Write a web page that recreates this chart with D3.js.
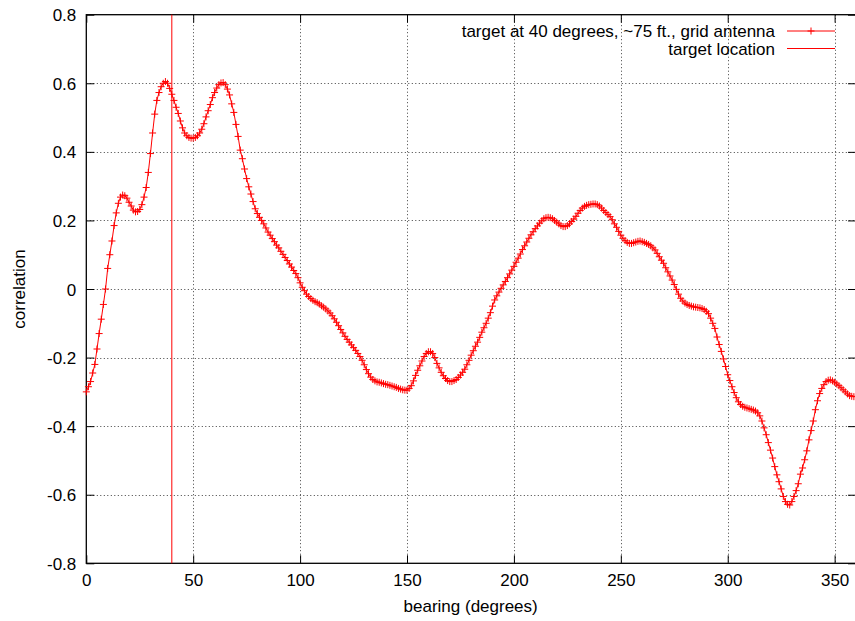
<!DOCTYPE html>
<html>
<head>
<meta charset="utf-8">
<script src="https://cdn.jsdelivr.net/npm/d3@7"></script>
<style>
	body { margin: 0; background: #fff; }
	svg text { font-family: "Liberation Sans", Arial, Helvetica, sans-serif; font-size: 17px; fill: #000; }
</style>
</head>
<body>
<div id="chart"></div>
<script>
// bearing in degrees, one sample per degree
var bearing = d3.range(0, 360);

var correlation = [
	-0.300, -0.285, -0.270, -0.245, -0.220, -0.175, -0.130, -0.088, -0.045, 0.000,
	0.060, 0.100, 0.140, 0.185, 0.222, 0.250, 0.268, 0.274, 0.272, 0.265,
	0.253, 0.242, 0.230, 0.225, 0.226, 0.232, 0.246, 0.268, 0.296, 0.340,
	0.395, 0.455, 0.510, 0.550, 0.573, 0.590, 0.600, 0.605, 0.600, 0.585,
	0.568, 0.550, 0.530, 0.512, 0.490, 0.470, 0.455, 0.447, 0.442, 0.440,
	0.440, 0.442, 0.447, 0.455, 0.466, 0.482, 0.502, 0.520, 0.538, 0.558,
	0.573, 0.586, 0.596, 0.601, 0.602, 0.596, 0.583, 0.566, 0.540, 0.515,
	0.480, 0.445, 0.405, 0.380, 0.350, 0.322, 0.298, 0.277, 0.255, 0.234,
	0.220, 0.209, 0.200, 0.190, 0.178, 0.166, 0.157, 0.147, 0.138, 0.128,
	0.120, 0.110, 0.101, 0.092, 0.083, 0.073, 0.064, 0.054, 0.045, 0.033,
	0.018, 0.005, -0.005, -0.015, -0.022, -0.028, -0.033, -0.037, -0.040, -0.044,
	-0.049, -0.053, -0.058, -0.064, -0.070, -0.078, -0.087, -0.097, -0.107, -0.118,
	-0.128, -0.138, -0.147, -0.155, -0.163, -0.171, -0.179, -0.188, -0.197, -0.208,
	-0.221, -0.235, -0.247, -0.257, -0.264, -0.268, -0.271, -0.272, -0.274, -0.276,
	-0.278, -0.279, -0.281, -0.283, -0.285, -0.287, -0.290, -0.292, -0.294, -0.295,
	-0.295, -0.290, -0.282, -0.268, -0.252, -0.237, -0.224, -0.210, -0.197, -0.188,
	-0.183, -0.183, -0.188, -0.200, -0.217, -0.230, -0.243, -0.253, -0.261, -0.267,
	-0.270, -0.270, -0.267, -0.264, -0.258, -0.251, -0.243, -0.234, -0.221, -0.208,
	-0.193, -0.180, -0.167, -0.155, -0.141, -0.126, -0.113, -0.100, -0.085, -0.069,
	-0.050, -0.032, -0.020, -0.009, 0.002, 0.012, 0.022, 0.033, 0.044, 0.055,
	0.066, 0.078, 0.090, 0.102, 0.115, 0.126, 0.137, 0.148, 0.158, 0.167,
	0.176, 0.184, 0.192, 0.199, 0.205, 0.208, 0.209, 0.208, 0.205, 0.200,
	0.195, 0.190, 0.185, 0.182, 0.182, 0.185, 0.190, 0.197, 0.204, 0.212,
	0.221, 0.229, 0.236, 0.241, 0.244, 0.246, 0.247, 0.248, 0.248, 0.246,
	0.242, 0.236, 0.229, 0.223, 0.217, 0.211, 0.202, 0.190, 0.180, 0.168,
	0.157, 0.148, 0.141, 0.136, 0.133, 0.133, 0.135, 0.137, 0.139, 0.140,
	0.138, 0.136, 0.133, 0.130, 0.126, 0.120, 0.114, 0.104, 0.094, 0.084,
	0.075, 0.062, 0.050, 0.038, 0.026, 0.013, -0.001, -0.015, -0.027, -0.035,
	-0.041, -0.045, -0.048, -0.050, -0.052, -0.053, -0.054, -0.055, -0.057, -0.060,
	-0.065, -0.072, -0.085, -0.100, -0.115, -0.140, -0.162, -0.182, -0.204, -0.226,
	-0.250, -0.267, -0.285, -0.302, -0.317, -0.329, -0.337, -0.342, -0.345, -0.347,
	-0.349, -0.351, -0.353, -0.356, -0.361, -0.370, -0.385, -0.405, -0.425, -0.448,
	-0.470, -0.493, -0.518, -0.542, -0.562, -0.583, -0.605, -0.620, -0.628, -0.630,
	-0.620, -0.605, -0.588, -0.568, -0.540, -0.522, -0.498, -0.472, -0.440, -0.413,
	-0.385, -0.352, -0.326, -0.305, -0.290, -0.279, -0.270, -0.266, -0.265, -0.268,
	-0.272, -0.277, -0.282, -0.288, -0.294, -0.300, -0.306, -0.311, -0.313, -0.314
];

var targetBearing = 40;

var xTicks = [0, 50, 100, 150, 200, 250, 300, 350];
var yTicks = [-0.8, -0.6, -0.4, -0.2, 0, 0.2, 0.4, 0.6, 0.8];
var yTickLabels = ["-0.8", "-0.6", "-0.4", "-0.2", "0", "0.2", "0.4", "0.6", "0.8"];

var seriesLabel = "target at 40 degrees, ~75 ft., grid antenna";
var targetLabel = "target location";

var width = 855, height = 621;
var plot = { left: 86.3, right: 856, top: 14.7, bottom: 563.3 };
var lineColor = "#ff0000";

var svg = d3.select("#chart").append("svg")
	.attr("width", width)
	.attr("height", height);

var x = d3.scaleLinear().domain([0, 360]).range([plot.left, plot.right]);
var y = d3.scaleLinear().domain([-0.8, 0.8]).range([plot.bottom, plot.top]);

// dotted grid, skipping the border positions
var grid = svg.append("g").attr("class", "grid")
	.attr("stroke", "#000")
	.attr("stroke-width", 1)
	.attr("stroke-dasharray", "1,2.5")
	.attr("opacity", 0.75);

grid.selectAll(".gx").data(xTicks.filter(function(d){ return d > 0; }))
	.enter().append("line")
	.attr("x1", function(d){ return Math.round(x(d)) + 0.5; })
	.attr("x2", function(d){ return Math.round(x(d)) + 0.5; })
	.attr("y1", plot.top)
	.attr("y2", plot.bottom);

grid.selectAll(".gy").data(yTicks.filter(function(d){ return d > -0.8 && d < 0.8; }))
	.enter().append("line")
	.attr("y1", function(d){ return Math.round(y(d)) + 0.5; })
	.attr("y2", function(d){ return Math.round(y(d)) + 0.5; })
	.attr("x1", plot.left)
	.attr("x2", plot.right);

// axes with inward ticks on all four sides
var tickLen = 8;

var axisBottom = svg.append("g")
	.attr("transform", "translate(0," + plot.bottom + ")")
	.call(d3.axisBottom(x).tickValues(xTicks).tickSizeInner(-tickLen).tickSizeOuter(0).tickPadding(14));
var axisTop = svg.append("g")
	.attr("transform", "translate(0," + plot.top + ")")
	.call(d3.axisTop(x).tickValues(xTicks).tickSizeInner(-tickLen).tickSizeOuter(0).tickFormat(""));
var axisLeft = svg.append("g")
	.attr("transform", "translate(" + plot.left + ",0)")
	.call(d3.axisLeft(y).tickValues(yTicks).tickSizeInner(-tickLen).tickSizeOuter(0).tickPadding(10)
		.tickFormat(function(d, i){ return yTickLabels[i]; }));
var axisRight = svg.append("g")
	.attr("transform", "translate(" + plot.right + ",0)")
	.call(d3.axisRight(y).tickValues(yTicks).tickSizeInner(-tickLen).tickSizeOuter(0).tickFormat(""));

[axisBottom, axisTop, axisLeft, axisRight].forEach(function(a){
	a.select(".domain").remove();
	a.selectAll(".tick line").attr("stroke", "#000").attr("stroke-width", 1);
	a.selectAll("text")
		.style("font-family", "'Liberation Sans', Arial, sans-serif")
		.style("font-size", "17px")
		.attr("fill", "#000");
});
axisBottom.selectAll("text").attr("dy", "0.71em").attr("y", 11);
axisLeft.selectAll("text").attr("x", -10).attr("dy", "0.36em");

// border
svg.append("rect")
	.attr("x", plot.left)
	.attr("y", plot.top)
	.attr("width", plot.right - plot.left)
	.attr("height", plot.bottom - plot.top)
	.attr("fill", "none")
	.attr("stroke", "#000")
	.attr("stroke-width", 1.3);

// target location (left antialiased over two pixels, as in the original)
svg.append("line")
	.attr("class", "target-line")
	.attr("x1", x(targetBearing))
	.attr("x2", x(targetBearing))
	.attr("y1", plot.top)
	.attr("y2", plot.bottom)
	.style("stroke", lineColor)
	.style("stroke-width", 1);

// correlation curve with + markers
var pts = bearing.map(function(b, i){ return [b, correlation[i]]; });

svg.append("path")
	.datum(pts)
	.attr("fill", "none")
	.attr("stroke", lineColor)
	.attr("stroke-width", 1)
	.attr("d", d3.line()
		.x(function(d){ return x(d[0]); })
		.y(function(d){ return y(d[1]); }));

var m = 3.5;
function plusPath(cx, cy){
	return "M" + (cx - m) + "," + cy + "H" + (cx + m) + "M" + cx + "," + (cy - m) + "V" + (cy + m);
}

svg.append("g")
	.selectAll("path")
	.data(pts)
	.enter().append("path")
	.attr("d", function(d){ return plusPath(x(d[0]), y(d[1])); })
	.attr("stroke", lineColor)
	.attr("stroke-width", 1)
	.attr("fill", "none");

// key
var key = svg.append("g").attr("class", "key");
var keyRows = [
	{ label: seriesLabel, marker: true, y: 31 },
	{ label: targetLabel, marker: false, y: 48.5 }
];

keyRows.forEach(function(r){
	key.append("text")
		.attr("x", 775)
		.attr("y", r.y)
		.attr("dy", "0.36em")
		.attr("text-anchor", "end")
		.text(r.label);
	key.append("line")
		.attr("x1", 787).attr("x2", 835)
		.attr("y1", r.y).attr("y2", r.y)
		.attr("stroke", lineColor)
		.attr("stroke-width", 1);
	if (r.marker) {
		key.append("path")
			.attr("d", plusPath(811, r.y))
			.attr("stroke", lineColor)
			.attr("stroke-width", 1);
	}
});

// axis titles
svg.append("text")
	.attr("x", (plot.left + plot.right) / 2 - 0.5)
	.attr("y", 612)
	.attr("text-anchor", "middle")
	.text("bearing (degrees)");

svg.append("text")
	.attr("transform", "translate(25," + ((plot.top + plot.bottom) / 2) + ") rotate(-90)")
	.attr("text-anchor", "middle")
	.text("correlation");
</script>
</body>
</html>
